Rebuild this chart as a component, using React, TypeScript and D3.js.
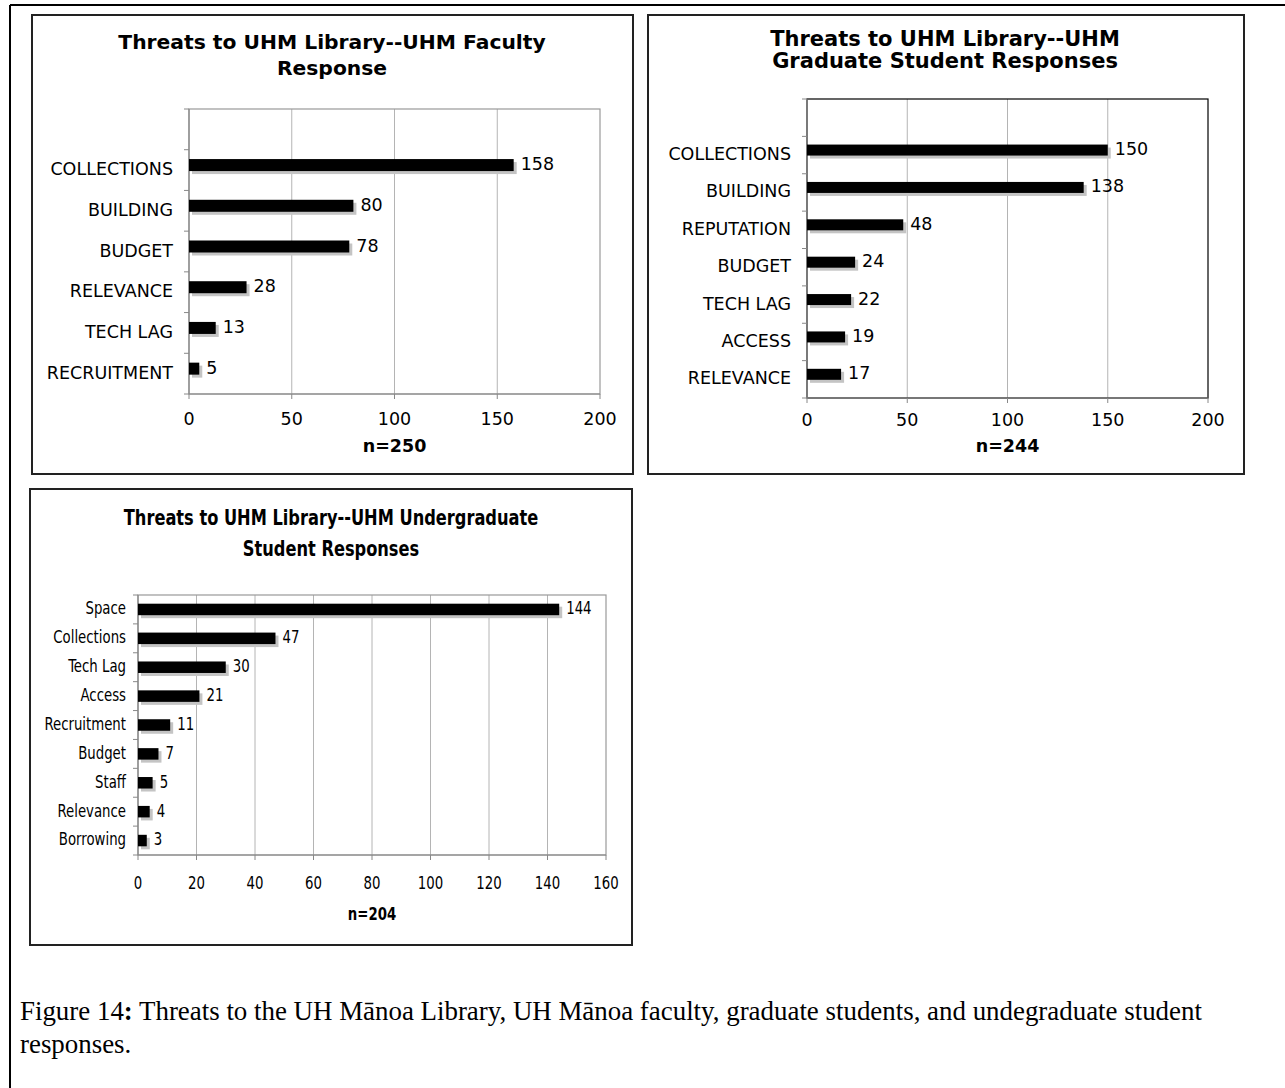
import React from "react";
import * as d3 from "d3";

// ---------- data ----------
const facultyCategories = ["COLLECTIONS", "BUILDING", "BUDGET", "RELEVANCE", "TECH LAG", "RECRUITMENT"];
const facultyValues = [158, 80, 78, 28, 13, 5];
const facultyTicks = [0, 50, 100, 150, 200];

const gradCategories = ["COLLECTIONS", "BUILDING", "REPUTATION", "BUDGET", "TECH LAG", "ACCESS", "RELEVANCE"];
const gradValues = [150, 138, 48, 24, 22, 19, 17];
const gradTicks = [0, 50, 100, 150, 200];

const ugCategories = ["Space", "Collections", "Tech Lag", "Access", "Recruitment", "Budget", "Staff", "Relevance", "Borrowing"];
const ugValues = [144, 47, 30, 21, 11, 7, 5, 4, 3];
const ugTicks = [0, 20, 40, 60, 80, 100, 120, 140, 160];

const captionLine1 = "Threats to the UH Mānoa Library, UH Mānoa faculty, graduate students, and undegraduate student";
const captionLine2 = "responses.";

type PanelProps = {
  frame: { x: number; y: number; w: number; h: number };
  plot: { l: number; r: number; t: number; b: number };
  categories: string[];
  values: number[];
  ticks: number[];
  emptyTop: boolean;
  title: string[];
  titleY: number[];
  titleSize: number;
  titleSx: number;
  titleX: number;
  font: string;
  labelSize: number;
  sx: number;
  tickLabelY: number;
  nLabel: string;
  nY: number;
  plotStroke: string;
  barH: number;
  barOffset: number;
  labelGap: number;
};

function T(props: { x: number; y: number; sx: number; anchor?: string; bold?: boolean; size: number; font: string; children: React.ReactNode }) {
  return (
    <text
      transform={`translate(${props.x},${props.y}) scale(${props.sx},1)`}
      textAnchor={props.anchor || "start"}
      dominantBaseline="middle"
      fontFamily={props.font}
      fontWeight={props.bold ? "bold" : "normal"}
      fontSize={props.size}
      fill="#000"
    >
      {props.children}
    </text>
  );
}

function Panel(p: PanelProps) {
  const dom = p.emptyTop ? ["__blank__", ...p.categories] : p.categories;
  const y = d3.scaleBand<string>().domain(dom).range([p.plot.t, p.plot.b]).padding(0);
  const x = d3.scaleLinear().domain([p.ticks[0], p.ticks[p.ticks.length - 1]]).range([p.plot.l, p.plot.r]);
  const bw = y.bandwidth();
  const boundaries = dom.map((d) => y(d) as number).concat([p.plot.b]);
  return (
    <g>
      <rect x={p.frame.x} y={p.frame.y} width={p.frame.w} height={p.frame.h} fill="#fff" stroke="#222" strokeWidth={2} />
      {p.title.map((t, i) => (
        <T key={i} x={p.titleX} y={p.titleY[i]} sx={p.titleSx} anchor="middle" bold size={p.titleSize} font={p.font}>{t}</T>
      ))}
      {p.ticks.slice(1, -1).map((t) => (
        <line key={t} x1={x(t)} x2={x(t)} y1={p.plot.t} y2={p.plot.b} stroke="#b4b4b4" strokeWidth={1} />
      ))}
      <rect x={p.plot.l} y={p.plot.t} width={p.plot.r - p.plot.l} height={p.plot.b - p.plot.t} fill="none" stroke={p.plotStroke} strokeWidth={1.2} />
      <line x1={p.plot.l} x2={p.plot.l} y1={p.plot.t} y2={p.plot.b} stroke="#888" strokeWidth={1.2} />
      <line x1={p.plot.l} x2={p.plot.r} y1={p.plot.b} y2={p.plot.b} stroke="#888" strokeWidth={1.2} />
      {boundaries.map((b, i) => (
        <line key={i} x1={p.plot.l - 5} x2={p.plot.l} y1={b} y2={b} stroke="#888" strokeWidth={1} />
      ))}
      {p.ticks.map((t) => (
        <line key={t} x1={x(t)} x2={x(t)} y1={p.plot.b} y2={p.plot.b + 5} stroke="#888" strokeWidth={1} />
      ))}
      {p.ticks.map((t) => (
        <T key={t} x={x(t)} y={p.tickLabelY} sx={p.sx} anchor="middle" size={p.labelSize} font={p.font}>{t}</T>
      ))}
      {p.categories.map((c, i) => {
        const cy = (y(c) as number) + bw / 2 + p.barOffset;
        const x0 = x(0);
        const x1 = x(p.values[i]);
        return (
          <g key={c}>
            <rect x={x0 + 3} y={cy - p.barH / 2 + 3} width={x1 - x0} height={p.barH} fill="#c4c4c4" />
            <rect x={x0} y={cy - p.barH / 2} width={x1 - x0} height={p.barH} fill="#000" />
            <T x={x1 + 7} y={cy} sx={p.sx} size={p.labelSize} font={p.font}>{p.values[i]}</T>
            <T x={p.plot.l - p.labelGap} y={(y(c) as number) + bw / 2} sx={p.sx} anchor="end" size={p.labelSize} font={p.font}>{c}</T>
          </g>
        );
      })}
      <T x={(p.plot.l + p.plot.r) / 2} y={p.nY} sx={p.sx} anchor="middle" bold size={p.labelSize} font={p.font}>{p.nLabel}</T>
    </g>
  );
}

export default function App() {
  return (
    <svg width={1285} height={1088} style={{ position: "absolute", left: 0, top: 0 }}>
      <rect x={0} y={0} width={1285} height={1088} fill="#fff" />
      <line x1={10} x2={1285} y1={5} y2={5} stroke="#000" strokeWidth={2} />
      <line x1={10} x2={10} y1={5} y2={1088} stroke="#000" strokeWidth={2} />
      <Panel
        frame={{ x: 32, y: 15, w: 601, h: 459 }}
        plot={{ l: 189, r: 600, t: 109, b: 394 }}
        categories={facultyCategories}
        values={facultyValues}
        ticks={facultyTicks}
        emptyTop={true}
        title={["Threats to UHM Library--UHM Faculty", "Response"]}
        titleY={[43, 69]}
        titleSize={20.3}
        titleSx={1}
        titleX={332}
        font="DejaVu Sans, Verdana, sans-serif"
        labelSize={17.5}
        sx={1}
        tickLabelY={420}
        nLabel="n=250"
        nY={447}
        plotStroke="#999"
        barH={12}
        barOffset={-5}
        labelGap={16}
      />
      <Panel
        frame={{ x: 648, y: 15, w: 596, h: 459 }}
        plot={{ l: 807, r: 1208, t: 99, b: 398 }}
        categories={gradCategories}
        values={gradValues}
        ticks={gradTicks}
        emptyTop={true}
        title={["Threats to UHM Library--UHM", "Graduate Student Responses"]}
        titleY={[40, 62]}
        titleSize={21}
        titleSx={1}
        titleX={945}
        font="DejaVu Sans, Verdana, sans-serif"
        labelSize={17.5}
        sx={1}
        tickLabelY={421}
        nLabel="n=244"
        nY={447}
        plotStroke="#000"
        barH={11}
        barOffset={-5}
        labelGap={16}
      />
      <Panel
        frame={{ x: 30, y: 489, w: 602, h: 456 }}
        plot={{ l: 138, r: 606, t: 595, b: 855 }}
        categories={ugCategories}
        values={ugValues}
        ticks={ugTicks}
        emptyTop={false}
        title={["Threats to UHM Library--UHM Undergraduate", "Student Responses"]}
        titleY={[519, 550]}
        titleSize={20.5}
        titleSx={0.88}
        titleX={331}
        font="DejaVu Sans Condensed, DejaVu Sans, sans-serif"
        labelSize={17.5}
        sx={0.845}
        tickLabelY={884}
        nLabel="n=204"
        nY={915}
        plotStroke="#999"
        barH={11.5}
        barOffset={0}
        labelGap={12}
      />
      <text x={20} y={1020} fontFamily="Liberation Serif, Times New Roman, serif" fontSize={26.9} fill="#000">
        Figure 14<tspan fontWeight="bold">:</tspan> {captionLine1}
      </text>
      <text x={20} y={1053} fontFamily="Liberation Serif, Times New Roman, serif" fontSize={26.9} fill="#000">
        {captionLine2}
      </text>
    </svg>
  );
}
